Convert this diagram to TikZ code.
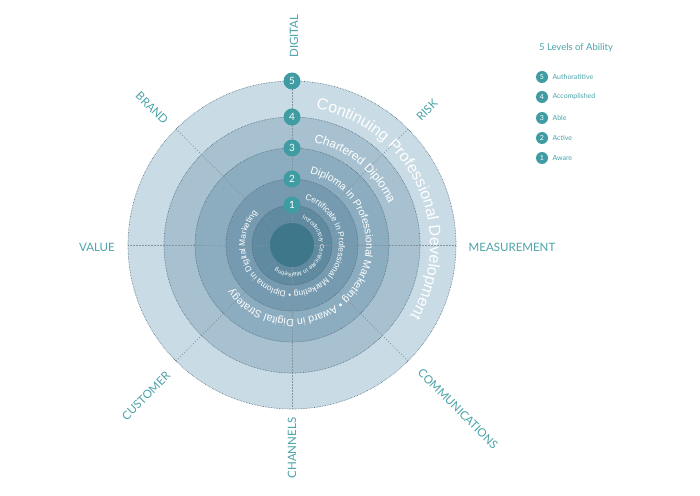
\documentclass[tikz,border=0pt]{standalone}
\usepackage{fontspec}
\setmainfont{Lato}
\newfontfamily\ringfont{Liberation Sans}
\usetikzlibrary{decorations.text}
\definecolor{tealcol}{RGB}{62,156,162}
\definecolor{labcol}{RGB}{74,163,168}
\definecolor{ringA}{RGB}{201,219,229}
\definecolor{ringB}{RGB}{168,193,208}
\definecolor{ringC}{RGB}{140,172,191}
\definecolor{ringD}{RGB}{118,155,176}
\definecolor{ringE}{RGB}{96,138,160}
\definecolor{corecol}{RGB}{62,118,138}
\definecolor{edgecol}{RGB}{78,104,120}

\begin{document}
\begin{tikzpicture}[x=1pt,y=1pt,
  lvl/.style={circle,fill=tealcol,text=white,inner sep=0pt,minimum size=17pt,
    font=\fontsize{10}{10}\selectfont},
  key/.style={circle,fill=tealcol,text=white,inner sep=0pt,minimum size=12pt,
    font=\fontsize{7}{7}\selectfont},
  keytext/.style={anchor=west,text=labcol,font=\fontsize{7}{7}\selectfont},
  axislab/.style={text=labcol,font=\fontsize{11.5}{11.5}\selectfont},
  ringline/.style={draw=edgecol,densely dotted,line width=0.6pt},
  spoke/.style={draw=edgecol!70,dashed,dash pattern=on 1.5pt off 1.5pt,line width=0.4pt}]
  \useasboundingbox (-292,-250) rectangle (408,245);

  % rings, outside in
  \fill[ringA](0,0) circle(164pt);
  \fill[ringB](0,0) circle(128pt);
  \fill[ringC](0,0) circle(97pt);
  \fill[ringD](0,0) circle(66pt);
  \fill[ringE](0,0) circle(40pt);
  \foreach \a in {0,45,...,315}
    \draw[spoke](\a:22pt)--(\a:164pt);
  \foreach \r in {164,128,97,66,40}
    \draw[ringline](0,0) circle(\r pt);
  \fill[corecol](0,0) circle(22pt);

  % course names along the rings
  \path[decorate,decoration={text along path,text color=white,
    text={|\ringfont\fontsize{16}{16}\selectfont|Continuing Professional Development}}]
    (80:138pt) arc[start angle=80,end angle=-150,radius=138pt];
  \path[decorate,decoration={text along path,text color=white,
    text={|\ringfont\fontsize{12}{12}\selectfont|Chartered Diploma}}]
    (78:105pt) arc[start angle=78,end angle=-100,radius=105pt];
  \path[decorate,decoration={text along path,text color=white,
    text={|\ringfont\fontsize{10.5}{10.5}\selectfont|Diploma in Professional Marketing • Award in Digital Strategy}}]
    (76:74pt) arc[start angle=76,end angle=-250,radius=74pt];
  \path[decorate,decoration={text along path,text color=white,
    text={|\ringfont\fontsize{8.3}{8.3}\selectfont|Certificate in Professional Marketing • Diploma in Digital Marketing}}]
    (74:47pt) arc[start angle=74,end angle=-270,radius=47pt];
  \path[decorate,decoration={text along path,text color=white,
    text={|\ringfont\fontsize{6}{6}\selectfont|Introductory Certificate in Marketing}}]
    (69:28pt) arc[start angle=69,end angle=-250,radius=28pt];

  % level markers
  \node[lvl](m5) at (0,164){5};
  \node[lvl](m4) at (0,128){4};
  \node[lvl](m3) at (0,97){3};
  \node[lvl](m2) at (0,66){2};
  \node[lvl](m1) at (0,40){1};

  % axis labels
  \node[axislab,rotate=90](digital) at (2,209){DIGITAL};
  \node[axislab,rotate=-45](brand) at (-140,137){BRAND};
  \node[axislab,rotate=45](risk) at (135,135){RISK};
  \node[axislab](value) at (-195,-2){VALUE};
  \node[axislab](measure) at (220,-2){MEASUREMENT};
  \node[axislab,rotate=45](customer) at (-146,-151){CUSTOMER};
  \node[axislab,rotate=-45](comms) at (166,-164){COMMUNICATIONS};
  \node[axislab,rotate=90](channels) at (0,-203){CHANNELS};

  % legend
  \node[text=labcol,font=\fontsize{9.5}{9.5}\selectfont](keytitle) at (284,197){5 Levels of Ability};
  \node[key](k5) at (250,168){5};
  \node[key](k4) at (250,148){4};
  \node[key](k3) at (250,127){3};
  \node[key](k2) at (250,107){2};
  \node[key](k1) at (250,87){1};
  \node[keytext](t5) at (257,168){Authoratitive};
  \node[keytext](t4) at (257,148){Accomplished};
  \node[keytext](t3) at (257,127){Able};
  \node[keytext](t2) at (257,107){Active};
  \node[keytext](t1) at (257,87){Aware};
\end{tikzpicture}
\end{document}
